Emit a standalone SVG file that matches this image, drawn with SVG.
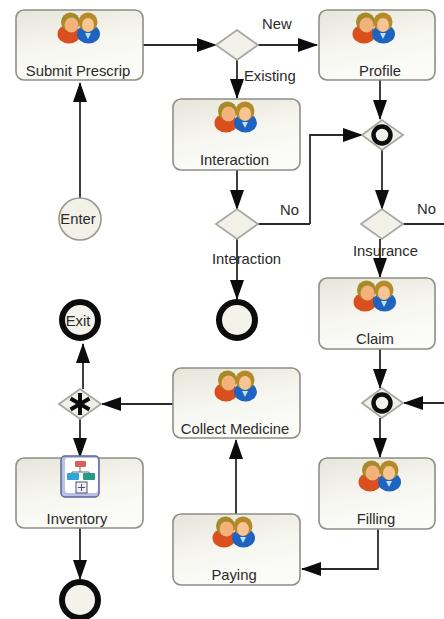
<svg xmlns="http://www.w3.org/2000/svg" width="444" height="619" viewBox="0 0 444 619">
<style>
text{font-family:"Liberation Sans",Arial,sans-serif;font-size:14.800px;fill:#2a2a2a}
.m{text-anchor:middle}
.box{fill:url(#bg);stroke:#8f8f86;stroke-width:1.600}
.gw{fill:#f1f1ea;stroke:#a8a8a0;stroke-width:1.800}
.c{fill:none;stroke:#2a2a2a;stroke-width:1.800}
.head{fill:#0c0c0c}
.end{fill:#f3f3ec;stroke:#0c0c0c;stroke-width:6}
</style>
<defs>
<linearGradient id="bg" x1="0" y1="0" x2="0.35" y2="1"><stop offset="0" stop-color="#e6e5da"/><stop offset="0.6" stop-color="#f7f7f1"/><stop offset="1" stop-color="#fbfbf8"/></linearGradient>
<marker id="a" viewBox="0 0 20 14" refX="19" refY="7" markerWidth="20" markerHeight="14" markerUnits="userSpaceOnUse" orient="auto"><path class="head" d="M0 0L20 7L0 14z"/></marker>
<g id="people">
<ellipse cx="-10" cy="12" rx="11.500" ry="9.500" fill="#d9501e"/>
<ellipse cx="9.500" cy="12" rx="11.500" ry="9.500" fill="#1f63c0"/>
<circle cx="-8.500" cy="0" r="9.500" fill="#a58a2a"/>
<circle cx="9" cy="0" r="9.500" fill="#b58a28"/>
<ellipse cx="-7.500" cy="3" rx="7" ry="7.500" fill="#f2b27a"/>
<ellipse cx="9" cy="3" rx="6" ry="7" fill="#f7c593"/>
<path d="M6 11h6l-3 6z" fill="#bfe0f5"/>
</g>
</defs>
<g id="connectors">
<path class="c" marker-end="url(#a)" d="M143 45H216"/>
<path class="c" marker-end="url(#a)" d="M80 198V83"/>
<path class="c" marker-end="url(#a)" d="M258 45H317"/>
<path class="c" marker-end="url(#a)" d="M237 60V98"/>
<path class="c" marker-end="url(#a)" d="M380 80V119"/>
<path class="c" marker-end="url(#a)" d="M310 224V135H362"/>
<path class="c" d="M258 224H310"/>
<path class="c" marker-end="url(#a)" d="M237 170V209"/>
<path class="c" marker-end="url(#a)" d="M237 239V299"/>
<path class="c" marker-end="url(#a)" d="M382 149V209"/>
<path class="c" marker-end="url(#a)" d="M380 239V277"/>
<path class="c" d="M403 224H444"/>
<path class="c" marker-end="url(#a)" d="M380 349V388"/>
<path class="c" marker-end="url(#a)" d="M444 403H404"/>
<path class="c" marker-end="url(#a)" d="M380 418V457"/>
<path class="c" marker-end="url(#a)" d="M378 529V569H302"/>
<path class="c" marker-end="url(#a)" d="M236 514V440"/>
<path class="c" marker-end="url(#a)" d="M173 404H102"/>
<path class="c" marker-end="url(#a)" d="M83 389V344"/>
<path class="c" marker-end="url(#a)" d="M80 419V457"/>
<path class="c" marker-end="url(#a)" d="M80 528V579"/>
</g>
<g id="submit"><rect class="box" x="16" y="10" width="127" height="70" rx="8"/><use href="#people" x="79" y="22"/><text class="m" x="78" y="76">Submit Prescrip</text></g>
<g id="profile"><rect class="box" x="319" y="10" width="116" height="70" rx="8"/><use href="#people" x="374" y="22"/><text class="m" x="380" y="76">Profile</text></g>
<g id="interaction"><rect class="box" x="173" y="99" width="127" height="71" rx="8"/><use href="#people" x="236" y="111"/><text class="m" x="234.500" y="165">Interaction</text></g>
<g id="claim"><rect class="box" x="319" y="278" width="116" height="71" rx="8"/><use href="#people" x="375" y="290"/><text class="m" x="375" y="344">Claim</text></g>
<g id="collect"><rect class="box" x="173" y="368" width="127" height="70" rx="8"/><use href="#people" x="236" y="380"/><text class="m" x="235" y="434">Collect Medicine</text></g>
<g id="filling"><rect class="box" x="319" y="458" width="116" height="71" rx="8"/><use href="#people" x="380" y="470"/><text class="m" x="376" y="524">Filling</text></g>
<g id="paying"><rect class="box" x="173" y="514" width="127" height="71" rx="8"/><use href="#people" x="234" y="526"/><text class="m" x="234" y="580">Paying</text></g>
<g id="inventory"><rect class="box" x="16" y="458" width="127" height="70" rx="8"/>
<rect x="61" y="456" width="38" height="41" rx="4" fill="#b9c2e2" stroke="#5a669c" stroke-width="1.500"/>
<rect x="65" y="458" width="33" height="35" rx="3" fill="#fff"/>
<rect x="75" y="461" width="11" height="6" rx="1" fill="#d9605a"/>
<path d="M80 467v5M72 472h17v3M72 472v3" fill="none" stroke="#666" stroke-width="1"/>
<rect x="67" y="473" width="12" height="7" rx="1" fill="#2fa5d8"/><rect x="83" y="473" width="12" height="7" rx="1" fill="#2a9a88"/>
<rect x="76" y="482" width="11" height="11" fill="#eef" stroke="#555" stroke-width="1"/><path d="M81.500 484v7M78 487.500h7" stroke="#555" stroke-width="1"/>
<text class="m" x="77" y="524">Inventory</text></g>
<g id="gw1"><path class="gw" d="M216 45L237 30L258 45L237 60z"/></g>
<g id="gw2"><path class="gw" d="M216 224L237 209L258 224L237 239z"/></g>
<g id="gw3"><path class="gw" d="M361 224L382 209L403 224L382 239z"/></g>
<g id="or1"><path class="gw" d="M362 135L382 120L403 135L382 150z"/><circle cx="382" cy="135" r="8.500" fill="none" stroke="#0c0c0c" stroke-width="4.500"/></g>
<g id="or2"><path class="gw" d="M362 403L382 388L403 403L382 418z"/><circle cx="382" cy="403" r="8.500" fill="none" stroke="#0c0c0c" stroke-width="4.500"/></g>
<g id="star"><path class="gw" d="M59 404L80 389L101 404L80 419z"/><path d="M80 393V415M70.500 398.500L89.500 409.500M70.500 409.500L89.500 398.500" stroke="#0c0c0c" stroke-width="4"/></g>
<g id="enter"><circle cx="80" cy="219" r="21" fill="#f1f1e8" stroke="#999990" stroke-width="1.600"/><text class="m" x="78" y="224">Enter</text></g>
<g id="exit"><circle class="end" cx="80" cy="320" r="18"/><text class="m" x="78" y="326">Exit</text></g>
<g id="end1"><circle class="end" cx="237" cy="320" r="18"/></g>
<g id="end2"><circle class="end" cx="80" cy="600" r="18"/></g>
<g id="labels">
<text x="262" y="29">New</text>
<text x="244" y="81">Existing</text>
<text x="280" y="215">No</text>
<text x="212" y="264">Interaction</text>
<text x="417" y="214">No</text>
<text x="353" y="256">Insurance</text>
</g>
</svg>
